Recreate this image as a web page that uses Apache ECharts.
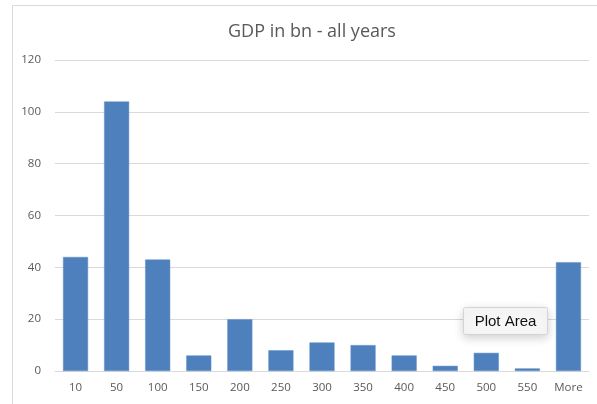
<!DOCTYPE html>
<html>
<head>
<meta charset="utf-8">
<script src="https://cdn.jsdelivr.net/npm/echarts@6/dist/echarts.min.js"></script>
<style>
  html, body { margin: 0; padding: 0; background: #ffffff; }
  #chart { width: 597px; height: 404px; }
</style>
</head>
<body>
<div id="chart"></div>
<script>
// Histogram bins (upper bound of each GDP band, in bn) and counts
const bins = ['10', '50', '100', '150', '200', '250', '300', '350', '400', '450', '500', '550', 'More'];
const counts = [44, 104, 43, 6, 20, 8, 11, 10, 6, 2, 7, 1, 42];
const yTicks = { min: 0, max: 120, step: 20 };

const textColor = '#595959';
const font = '"Open Sans", "Liberation Sans", sans-serif';

const chart = echarts.init(document.getElementById('chart'), null, { renderer: 'canvas' });

chart.setOption({
  animation: false,
  backgroundColor: '#ffffff',
  title: {
    text: 'GDP in bn - all years',
    left: 223,
    top: 18,
    textStyle: { color: textColor, fontFamily: font, fontSize: 18, fontWeight: 'normal' }
  },
  grid: { left: 55, right: 8, top: 60, bottom: 33 },
  xAxis: {
    type: 'category',
    data: bins,
    axisLine: { lineStyle: { color: '#d9d9d9', width: 1 } },
    axisTick: { show: false },
    axisLabel: { color: textColor, fontFamily: font, fontSize: 11.5, margin: 11 }
  },
  yAxis: {
    type: 'value',
    min: yTicks.min,
    max: yTicks.max,
    interval: yTicks.step,
    axisLine: { show: false },
    axisTick: { show: false },
    splitLine: { lineStyle: { color: '#d9d9d9', width: 1 } },
    axisLabel: { color: textColor, fontFamily: font, fontSize: 11.5, margin: 14 }
  },
  series: [{
    type: 'bar',
    data: counts,
    barCategoryGap: '39%',
    itemStyle: { color: '#4d80bd', borderColor: '#6090c9', borderWidth: 0.5 }
  }],
  graphic: [
    {
      // chart frame
      type: 'polyline',
      shape: { points: [[12.5, 404], [12.5, 5.5], [597, 5.5]] },
      style: { stroke: '#d9d9d9', lineWidth: 1, fill: null },
      silent: true
    },
    {
      type: 'group',
      left: 463,
      top: 307,
      z: 100,
      children: [
        {
          type: 'rect',
          z: 100,
          shape: { x: 0, y: 0, width: 84, height: 27, r: 2 },
          style: {
            fill: '#f7f7f7',
            stroke: '#d4d4d4',
            lineWidth: 1,
            shadowBlur: 10,
            shadowColor: 'rgba(0,0,0,0.18)',
            shadowOffsetY: 3
          }
        },
        {
          type: 'text',
          z: 101,
          style: {
            x: 42, y: 14,
            text: 'Plot Area',
            align: 'center',
            verticalAlign: 'middle',
            fill: '#111111',
            font: '15px "Liberation Sans", sans-serif'
          }
        }
      ]
    }
  ]
});
</script>
</body>
</html>
